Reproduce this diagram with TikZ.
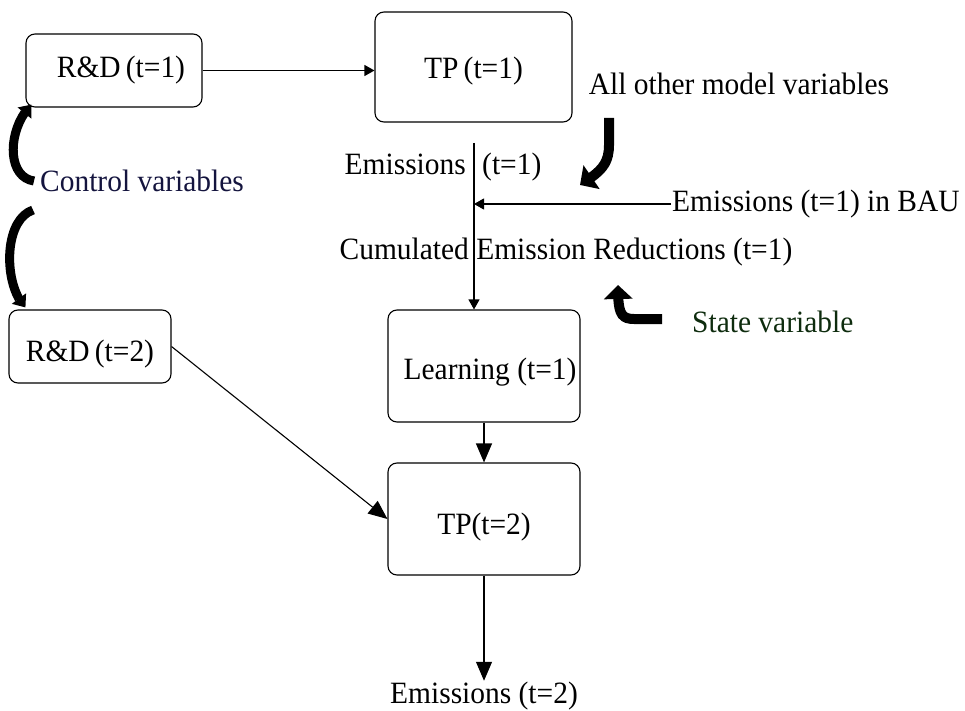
\documentclass[tikz,border=0pt]{standalone}
\usepackage{fontspec}
\setmainfont[FakeStretch=0.95]{Liberation Serif}
\usetikzlibrary{arrows.meta,bending}
\definecolor{cvblue}{RGB}{20,20,62}
\definecolor{svgreen}{RGB}{14,44,14}

\begin{document}
\begin{tikzpicture}[x=1pt,y=1pt,
  every node/.style={font=\fontsize{31}{36}\selectfont},
  box/.style={draw,rounded corners=9pt,line width=1.1pt,inner sep=0pt},
  lowtext/.style={text height=#1,text depth=0pt},
  lbl/.style={inner sep=1pt},
  arr/.style={line width=1.1pt,-{Triangle[length=10pt,width=11pt]}},
  bigarr/.style={line width=1.1pt,-{Triangle[length=19pt,width=16pt]}},
  fat/.style={line width=10pt,-{Triangle[length=14pt,width=28pt]}},
  slimfat/.style={line width=9pt,-{Triangle[length=11pt,width=17pt]}}]
\useasboundingbox (0,0) rectangle (965,-711);
\node[box,minimum width=176pt,minimum height=73pt] (rd1) at (114,-70.5) {\hspace*{14pt}R\&D\,(t=1)};
\node[box,lowtext=24pt,minimum width=197pt,minimum height=110pt] (tp1) at (473.5,-67) {TP\,(t=1)};
\node[box,lowtext=30pt,minimum width=162pt,minimum height=73pt] (rd2) at (90,-346.5) {R\&D\,(t=2)};
\node[box,lowtext=26pt,minimum width=192pt,minimum height=112pt] (learn) at (484,-366) {\hspace*{12pt}Learning (t=1)};
\node[box,lowtext=30pt,minimum width=192pt,minimum height=112pt] (tp2) at (484,-519) {TP(t=2)};
\node[lbl,anchor=base east] (em1) at (467,-175) {Emissions};
\node[lbl,anchor=base west] (t1) at (481,-175) {(t=1)};
\node[lbl,anchor=west] (bau) at (671,-204) {Emissions (t=1) in BAU};
\node[lbl] (cum) at (566,-252) {Cumulated Emission Reductions (t=1)};
\node[lbl] (aov) at (739,-84) {All other model variables};
\node[lbl,anchor=west,text=cvblue] (cv) at (39,-181) {Control variables};
\node[lbl,anchor=west,text=svgreen] (sv) at (691,-322) {State variable};
\node[lbl] (em2) at (484,-696) {Emissions (t=2)};
\coordinate (e1) at (474,-143);
\coordinate (j1) at (609,-118);
\coordinate (j2) at (580,-185);
\coordinate (s1) at (662,-319);
\coordinate (s2) at (618,-285);
\draw[arr] (rd1.east) -- (rd1.east -| tp1.west);
\draw[arr] (e1) -- (e1 |- learn.north);
\draw[arr] (bau.west) -- (bau.west -| e1);
\draw[bigarr] (learn) -- (tp2);
\draw[bigarr] (tp2) -- (em2);
\draw[bigarr] (rd2.east) -- (tp2.west);
\draw[slimfat] ([xshift=-5pt]cv.west) .. controls +(-28,4) and +(-24,-24) .. ([xshift=6pt,yshift=3pt]rd1.south west);
\draw[slimfat] ([xshift=-6pt,yshift=-29pt]cv.west) .. controls +(-30,-10) and +(-22,22) .. ([xshift=17pt,yshift=2pt]rd2.north west);
\draw[fat] (j1) -- (609,-145) .. controls (609,-165) and (600,-172) .. (j2);
\draw[fat] (s1) -- (634,-319) .. controls (620,-319) and (618,-312) .. (s2);
\end{tikzpicture}
\end{document}
